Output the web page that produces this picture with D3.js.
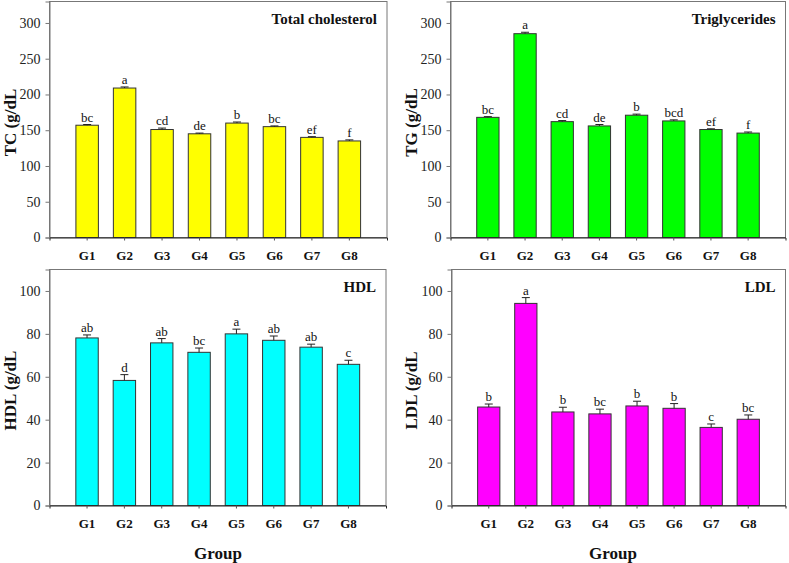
<!DOCTYPE html>
<html><head><meta charset="utf-8">
<script src="https://cdn.jsdelivr.net/npm/d3@7"></script>
<style>
html,body{margin:0;padding:0;background:#fff;}
svg{display:block;font-family:"Liberation Serif","Times New Roman",serif;}
</style></head>
<body>
<svg id="chart" width="789" height="563"></svg>
<script>
const groups = ["G1","G2","G3","G4","G5","G6","G7","G8"];

const tcValues = [157, 209, 151, 145, 160, 155, 140, 135];
const tcErrors = [1, 1.5, 2, 1, 1.5, 1, 1, 1.5];
const tcLetters = ["bc","a","cd","de","b","bc","ef","f"];

const tgValues = [168, 285, 162, 156, 171, 163, 151, 146];
const tgErrors = [1, 2, 1.5, 2, 1.5, 1.5, 1, 1.5];
const tgLetters = ["bc","a","cd","de","b","bcd","ef","f"];

const hdlValues = [78.1, 58.3, 75.8, 71.4, 80, 77, 73.8, 65.8];
const hdlErrors = [1.4, 2.7, 2, 2, 2.2, 2, 1.4, 1.9];
const hdlLetters = ["ab","d","ab","bc","a","ab","ab","c"];

const ldlValues = [45.9, 94.2, 43.6, 42.7, 46.4, 45.3, 36.4, 40.2];
const ldlErrors = [1.4, 2.7, 2.2, 2.2, 2.2, 2.2, 1.6, 2];
const ldlLetters = ["b","a","b","bc","b","b","c","bc"];

const tcTicks = [0,50,100,150,200,250,300];
const tgTicks = [0,50,100,150,200,250,300];
const hdlTicks = [0,20,40,60,80,100];
const ldlTicks = [0,20,40,60,80,100];

const panels = [
  {title:"Total cholesterol", ylab:"TC (g/dL", values:tcValues, errors:tcErrors, letters:tcLetters, ticks:tcTicks, max:330, color:"#ffff00",
   box:{l:49.5,r:387,t:1.5,b:237.5}, ylabX:10, group:false},
  {title:"Triglycerides", ylab:"TG (g/dL", values:tgValues, errors:tgErrors, letters:tgLetters, ticks:tgTicks, max:330, color:"#00ff00",
   box:{l:450.5,r:785.5,t:1.5,b:237.5}, ylabX:411, group:false},
  {title:"HDL", ylab:"HDL (g/dL", values:hdlValues, errors:hdlErrors, letters:hdlLetters, ticks:hdlTicks, max:110, color:"#00ffff",
   box:{l:49.5,r:386,t:269.5,b:505.5}, ylabX:10, group:true, groupX:218},
  {title:"LDL", ylab:"LDL (g/dL", values:ldlValues, errors:ldlErrors, letters:ldlLetters, ticks:ldlTicks, max:110, color:"#ff00ff",
   box:{l:451.5,r:785.5,t:269.5,b:505.5}, ylabX:411, group:true, groupX:613}
];

const svg = d3.select("#chart");

panels.forEach(p => {
  const B = p.box;
  const x = d3.scaleBand().domain(groups).range([B.l, B.r]).paddingInner(0.4).paddingOuter(0.705);
  const y = d3.scaleLinear().domain([0, p.max]).range([B.b, B.t]);
  const g = svg.append("g");

  // frame
  g.append("rect").attr("x",B.l).attr("y",B.t).attr("width",B.r-B.l).attr("height",B.b-B.t)
    .attr("fill","none").attr("stroke","#777").attr("stroke-width",1);

  // bars
  g.selectAll("rect.bar").data(groups).enter().append("rect").attr("class","bar")
    .attr("x", d => x(d)).attr("width", x.bandwidth())
    .attr("y", (d,i) => y(p.values[i])).attr("height", (d,i) => y(0) - y(p.values[i]))
    .attr("fill", p.color).attr("stroke","#333").attr("stroke-width",1);

  // error bars
  const eg = g.append("g").attr("stroke","#222").attr("stroke-width",1);
  groups.forEach((d,i) => {
    const cx = x(d) + x.bandwidth()/2;
    const top = y(p.values[i] + p.errors[i]);
    eg.append("line").attr("x1",cx).attr("x2",cx).attr("y1",y(p.values[i])).attr("y2",top);
    eg.append("line").attr("x1",cx-4).attr("x2",cx+4).attr("y1",top).attr("y2",top);
    g.append("text").attr("x",cx).attr("y",top-3).attr("text-anchor","middle")
      .attr("font-size",13).attr("fill","#111").text(p.letters[i]);
  });

  // y axis
  const ya = d3.axisLeft(y).tickValues(p.ticks).tickSize(4).tickPadding(5);
  const yg = g.append("g").attr("transform",`translate(${B.l},0)`).call(ya);
  yg.select(".domain").attr("stroke","#777");
  yg.selectAll(".tick line").attr("stroke","#777");
  yg.selectAll(".tick text").attr("font-size",14).attr("fill","#222")
    .attr("font-family","'Liberation Serif','Times New Roman',serif");

  // x axis
  const xa = d3.axisBottom(x).tickSize(3).tickPadding(10);
  const xg = g.append("g").attr("transform",`translate(0,${B.b})`).call(xa);
  xg.select(".domain").attr("stroke","#222");
  xg.selectAll(".tick line").attr("stroke","#555");
  xg.selectAll(".tick text").attr("font-size",13).attr("font-weight","bold").attr("fill","#111")
    .attr("font-family","'Liberation Serif','Times New Roman',serif");

  // title
  g.append("text").attr("x",B.r-10).attr("y",B.t+22).attr("text-anchor","end")
    .attr("font-size",15).attr("font-weight","bold").attr("fill","#111").text(p.title);

  // y label
  const cy = (B.t+B.b)/2 + 3;
  g.append("text").attr("transform",`translate(${p.ylabX + 6},${cy}) rotate(-90)`)
    .attr("text-anchor","middle").attr("font-size",17).attr("font-weight","bold").attr("fill","#111")
    .text(p.ylab);

  if (p.group) {
    g.append("text").attr("x",p.groupX).attr("y",559).attr("text-anchor","middle")
      .attr("font-size",17).attr("font-weight","bold").attr("fill","#111").text("Group");
  }
});
</script>
</body></html>
